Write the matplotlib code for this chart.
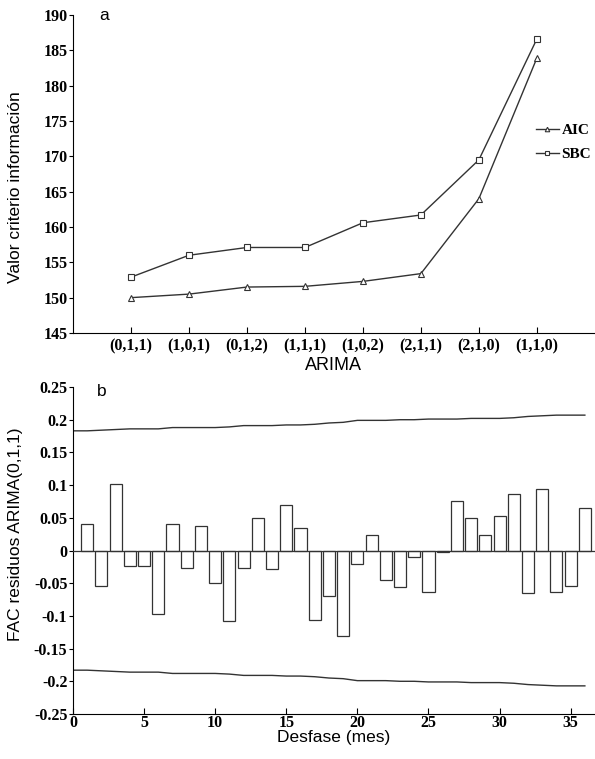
import numpy as np
import matplotlib
matplotlib.use('Agg')
import matplotlib.pyplot as plt

# datos panel a
modelos = ['(0,1,1)', '(1,0,1)', '(0,1,2)', '(1,1,1)', '(1,0,2)', '(2,1,1)', '(2,1,0)', '(1,1,0)']
aic = [150.0, 150.5, 151.5, 151.6, 152.3, 153.4, 164.0, 183.9]
sbc = [152.9, 156.0, 157.1, 157.1, 160.6, 161.7, 169.5, 186.6]

# datos panel b
lags = list(range(1, 37))
fac = [0.041, -0.055, 0.101, -0.024, -0.024, -0.097, 0.041, -0.027, 0.038, -0.050,
       -0.108, -0.026, 0.050, -0.029, 0.070, 0.034, -0.106, -0.070, -0.131, -0.021,
       0.024, -0.045, -0.056, -0.010, -0.063, -0.002, 0.075, 0.050, 0.023, 0.053,
       0.086, -0.065, 0.094, -0.063, -0.055, 0.065]
lags_banda = list(range(0, 37))
banda = [0.183, 0.183, 0.184, 0.185, 0.186, 0.186, 0.186, 0.188, 0.188, 0.188,
         0.188, 0.189, 0.191, 0.191, 0.191, 0.192, 0.192, 0.193, 0.195, 0.196,
         0.199, 0.199, 0.199, 0.200, 0.200, 0.201, 0.201, 0.201, 0.202, 0.202,
         0.202, 0.203, 0.205, 0.206, 0.207, 0.207, 0.207]

serif = 'Liberation Serif'
sans = 'Liberation Sans'
col = '#333333'
tsize = 11.5

fig = plt.figure(figsize=(5.95, 7.59), dpi=100)

# ---- panel a ----
ax1 = fig.add_axes([0.1227, 0.5613, 0.877, 0.4189])
x = np.arange(1, len(modelos) + 1)
ax1.plot(x, aic, color=col, lw=1, marker='^', ms=5, mfc='white', mec=col, mew=0.8, label='AIC')
ax1.plot(x, sbc, color=col, lw=1, marker='s', ms=4.5, mfc='white', mec=col, mew=0.8, label='SBC')
ax1.set_xlim(0, 9)
ax1.set_ylim(145, 190)
ax1.set_xticks(x)
ax1.set_xticklabels(modelos)
ax1.set_yticks(np.arange(145, 191, 5))
ax1.spines['top'].set_visible(False)
ax1.spines['right'].set_visible(False)
ax1.tick_params(axis='x', direction='in', length=4, labelsize=tsize, pad=4)
ax1.tick_params(axis='y', direction='out', length=3, labelsize=tsize, pad=1)
for lab in ax1.get_xticklabels() + ax1.get_yticklabels():
    lab.set_fontfamily(serif)
    lab.set_fontweight('bold')
ax1.set_xlabel('ARIMA', fontfamily=sans, fontsize=13, labelpad=2)
ax1.set_ylabel('Valor criterio información', fontfamily=sans, fontsize=12.5)
ax1.yaxis.set_label_coords(-0.095, 0.46)
ax1.text(0.05, 1.0, 'a', transform=ax1.transAxes, fontfamily=sans, fontsize=12.5, va='center')
leg = ax1.legend(loc='center left', bbox_to_anchor=(0.875, 0.6), frameon=False,
                 prop={'family': serif, 'size': 11, 'weight': 'bold'}, handlelength=1.5,
                 handletextpad=0.2, labelspacing=0.7, borderaxespad=0, markerscale=0.65)

# ---- panel b ----
ax2 = fig.add_axes([0.1227, 0.0593, 0.877, 0.4308])
ax2.bar(lags, fac, width=0.85, color='white', edgecolor=col, linewidth=0.9, zorder=2)
ax2.axhline(0, color=col, lw=0.9, zorder=3)
ax2.plot(lags_banda, banda, color=col, lw=1)
ax2.plot(lags_banda, [-b for b in banda], color=col, lw=1)
ax2.set_xlim(0, 36.7)
ax2.set_ylim(-0.25, 0.25)
ax2.set_xticks(np.arange(0, 36, 5))
ax2.set_yticks(np.arange(-0.25, 0.26, 0.05))
ax2.set_yticklabels(['-0.25', '-0.2', '-0.15', '-0.1', '-0.05', '0', '0.05', '0.1', '0.15', '0.2', '0.25'])
ax2.spines['top'].set_visible(False)
ax2.spines['right'].set_visible(False)
ax2.tick_params(axis='x', direction='in', length=4, labelsize=tsize, pad=1)
ax2.tick_params(axis='y', direction='out', length=3, labelsize=tsize, pad=1)
for lab in ax2.get_xticklabels() + ax2.get_yticklabels():
    lab.set_fontfamily(serif)
    lab.set_fontweight('bold')
ax2.set_xlabel('Desfase (mes)', fontfamily=sans, fontsize=12.5, labelpad=-1)
ax2.set_ylabel('FAC residuos ARIMA(0,1,1)', fontfamily=sans, fontsize=12.5)
ax2.yaxis.set_label_coords(-0.095, 0.55)
ax2.text(0.045, 0.985, 'b', transform=ax2.transAxes, fontfamily=sans, fontsize=12.5, va='center')

fig.savefig('out.png', dpi=100)
plt.close(fig)
